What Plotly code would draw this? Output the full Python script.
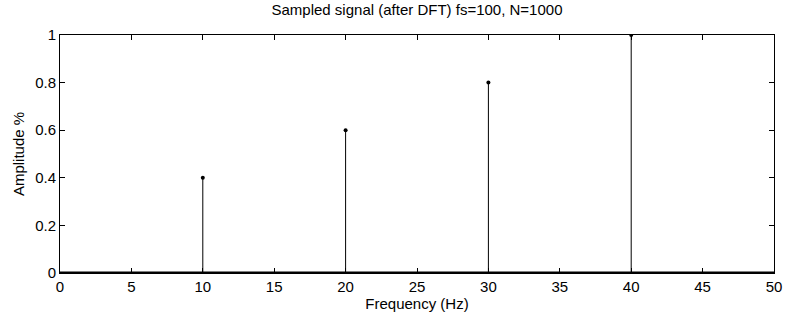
import plotly.graph_objects as go

# Spectrum peaks of the sampled signal (fs=100, N=1000)
peak_freqs = [10, 20, 30, 40]
peak_amps = [0.4, 0.6, 0.8, 1.0]

x_ticks = [0, 5, 10, 15, 20, 25, 30, 35, 40, 45, 50]
y_ticks = [0, 0.2, 0.4, 0.6, 0.8, 1]
y_tick_text = ["0", "0.2", "0.4", "0.6", "0.8", "1"]

font_family = "Liberation Sans, Arial, Helvetica, sans-serif"

# Build stem segments (baseline -> amplitude) separated by gaps
stem_x, stem_y = [], []
for f, a in zip(peak_freqs, peak_amps):
    stem_x += [f, f, None]
    stem_y += [0, a, None]

fig = go.Figure()

# Zero-amplitude bins form a thick baseline across the band
fig.add_hline(y=0, line=dict(color="black", width=3), layer="above")

fig.add_trace(go.Scatter(
    x=stem_x, y=stem_y, mode="lines",
    line=dict(color="black", width=1),
    hoverinfo="skip", showlegend=False,
))
fig.add_trace(go.Scatter(
    x=peak_freqs, y=peak_amps, mode="markers",
    marker=dict(color="black", size=4),
    showlegend=False,
))

axis_common = dict(
    showline=True, linecolor="black", linewidth=1, mirror="ticks",
    ticks="inside", ticklen=5, tickcolor="black", tickwidth=1,
    showgrid=False, zeroline=False, automargin=False,
    tickfont=dict(family=font_family, size=15, color="black"),
)

fig.update_xaxes(
    range=[0, 50], tickvals=x_ticks,
    title=dict(text="Frequency (Hz)", font=dict(family=font_family, size=15, color="black"), standoff=2),
    **axis_common,
)
fig.update_yaxes(
    range=[0, 1], tickvals=y_ticks, ticktext=y_tick_text,
    title=dict(text="Amplitude %", font=dict(family=font_family, size=15, color="black"), standoff=6),
    **axis_common,
)

fig.update_layout(
    width=785, height=322,
    margin=dict(l=60, r=11, t=35, b=49),
    plot_bgcolor="white", paper_bgcolor="white",
    title=dict(
        text="Sampled signal (after DFT) fs=100, N=1000",
        font=dict(family=font_family, size=15, color="black"),
        x=0.5, xref="paper", xanchor="center", y=0.985, yanchor="top",
    ),
)

fig.write_html("out.html")
